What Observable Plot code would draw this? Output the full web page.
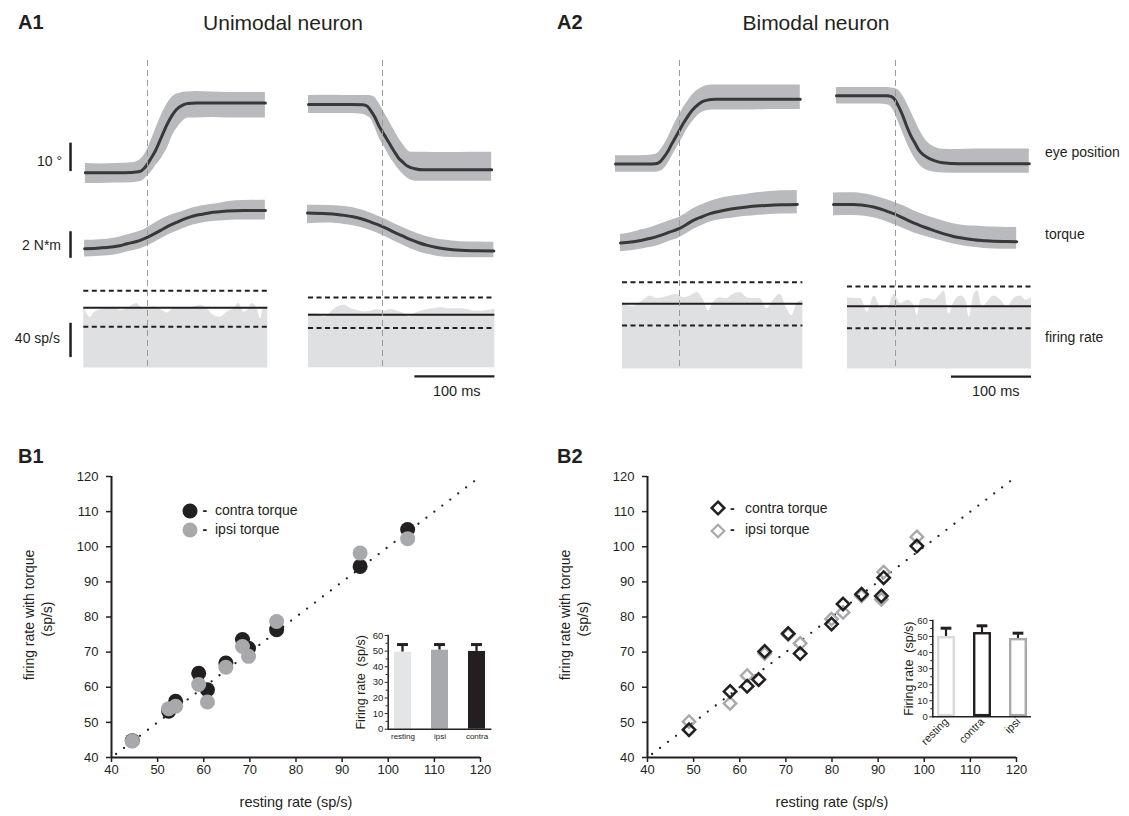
<!DOCTYPE html>
<html><head><meta charset="utf-8">
<script src="https://cdn.jsdelivr.net/npm/d3@7"></script>
<script src="https://cdn.jsdelivr.net/npm/@observablehq/plot@0.6"></script>
<style>
html,body{margin:0;padding:0;background:#fff}
#fig{position:relative;width:1129px;height:816px;overflow:hidden;background:#fff;font-family:"Liberation Sans",Arial,Helvetica,sans-serif;color:#231f20}
#fig > svg{position:absolute;overflow:visible;background:transparent;max-width:none}
</style></head><body><div id="fig"></div>
<script>
// ================= DATA =================
// Panel A traces: [time (ms from onset), mean, lower band, upper band]
const a1EyeLeft = [
  [-78,-12,-15.8,-8.8],[-60,-12,-15.8,-8.9],[-40,-12,-15.6,-8.8],[-20,-11.9,-15.5,-8.5],[-10,-11.6,-15.2,-7.5],
  [-5,-10.6,-14.5,-6],[0,-8.8,-13,-3.5],[5,-6.5,-11.5,0],[10,-4,-9.5,3.5],[15,-0.8,-7.8,7],[20,2.5,-5.5,10],
  [25,5.5,-3,12.5],[30,8,0.5,14.5],[35,10,3,15.5],[40,11.2,5,16],[45,12,6.5,16.3],[50,12.4,7.3,16.4],
  [60,12.5,7.3,16.6],[80,12.5,7.4,16.4],[100,12.5,7.3,16.2],[120,12.5,7.3,16.2],[147,12.5,7.3,16.2]];
const a1EyeRight = [
  [-93,12,8.8,15.2],[-60,12,8.8,15.3],[-40,12,8.8,15.2],[-25,11.9,8.6,15.2],[-20,11.5,8,15.2],[-15,9.8,7,15.1],
  [-10,7.5,4,14.5],[-5,4.5,0.5,12.5],[0,2.1,-2,10],[5,-0.2,-4.5,7.5],[10,-2.6,-7,5],[15,-4.9,-9,2.5],
  [20,-7,-11,0],[25,-8.3,-12.5,-2],[30,-9.6,-13.8,-3.8],[35,-10.2,-14.6,-4.8],[40,-10.6,-15,-4.8],
  [50,-11,-15,-4.8],[80,-11,-15,-4.9],[110,-11,-15,-4.8],[136,-11,-15,-4.8]];
const a1TorqueLeft = [
  [-79,-1.38,-2.0,-0.75],[-60,-1.32,-1.95,-0.7],[-46,-1.25,-1.88,-0.62],[-35,-1.15,-1.78,-0.5],[-26,-1.0,-1.63,-0.35],
  [-15,-0.85,-1.48,-0.15],[-5,-0.63,-1.28,0.05],[5,-0.35,-1.0,0.4],[16,0,-0.65,0.8],[25,0.3,-0.35,1.05],
  [37,0.63,-0.05,1.3],[47,0.88,0.2,1.5],[57,1.08,0.4,1.7],[68,1.22,0.55,1.85],[78,1.33,0.65,1.95],
  [90,1.4,0.7,2.05],[99,1.45,0.75,2.15],[120,1.5,0.78,2.25],[147,1.5,0.78,2.26]];
const a1TorqueRight = [
  [-94,1.3,0.5,1.9],[-69,1.25,0.55,1.88],[-48,1.13,0.45,1.8],[-37,1.02,0.35,1.7],[-27,0.88,0.22,1.55],
  [-17,0.68,0.02,1.35],[-7,0.45,-0.2,1.1],[4,0.17,-0.5,0.82],[14,-0.13,-0.8,0.52],[25,-0.42,-1.1,0.22],
  [35,-0.7,-1.38,-0.05],[45,-0.93,-1.6,-0.28],[56,-1.13,-1.8,-0.48],[66,-1.27,-1.92,-0.62],[77,-1.38,-2.02,-0.72],
  [97,-1.5,-2.05,-0.85],[118,-1.53,-2.05,-0.88],[139,-1.55,-2.05,-0.9]];
// firing rate: [time, rate sp/s]
const a1RateLeft = [
  [-80,71],[-71.6,59],[-67.5,64],[-55,69],[-42.5,71],[-34.1,67],[-25.8,69],[-13.3,75],[-9.1,71],[-0.8,69],
  [7.5,71],[15.9,68],[24.3,64],[32.5,69],[45,69],[57.5,71],[65.9,73],[74.2,69],[82.5,61],[90.9,59],
  [99.2,65],[107.5,69],[113.8,75],[120,65],[126.3,69],[130.5,75],[136.8,69],[140.9,57],[145,71],[150,71]];
const a1RateRight = [
  [-93,63],[-81.7,63],[-73.3,59],[-65,65],[-56.7,71],[-48.3,73],[-40,69],[-31.7,67],[-23.3,65],[-15,66],
  [-6.7,68],[1.7,66],[10,68],[18.3,66],[26.7,63],[32.9,59],[39.2,63],[47.5,66],[55.8,68],[64.2,69],
  [72.5,70],[80.8,69],[89.2,69],[97.5,69],[105.8,68],[114.2,66],[122.5,66],[130.8,67],[140,68]];
// [mean, upper dashed, lower dashed]
const a1RateLeftLevels = [70, 90, 48];
const a1RateRightLevels = [62, 82, 46.6];

const a2EyeLeft = [
  [-80,-11.4,-14.3,-8.5],[-60,-11.4,-14.3,-8.5],[-40,-11.4,-14.3,-8.4],[-30,-11.3,-14.3,-8],[-25,-10.8,-14,-7],
  [-20,-9.2,-13.3,-5],[-15,-7.2,-11.5,-2.5],[-10,-4.5,-9,0.5],[-5,-2,-6.5,3.5],[0,0.5,-4,6],[5,3,-1.5,8.5],
  [10,5.2,1,10.5],[15,7.2,3,12.5],[20,8.7,4.8,14],[25,9.9,6.2,15],[30,10.7,7,15.8],[35,11.1,7.4,16.2],
  [40,11.3,7.6,16.4],[45,11.4,7.6,16.4],[60,11.4,7.6,16.4],[80,11.4,7.6,16.4],[100,11.4,7.7,16.4],
  [120,11.4,7.8,16.4],[151,11.4,7.8,16.4]];
const a2EyeRight = [
  [-73,12.6,9.7,15.5],[-40,12.6,9.7,15.5],[-20,12.6,9.7,15.5],[-10,12.6,9.5,15.5],[-5,12.4,8.8,15.4],
  [0,11.3,6.5,15.2],[5,8.6,3,14.5],[10,5.5,-0.5,12.5],[15,1.7,-4,10],[20,-1.5,-7,7],[25,-4,-9.5,4],
  [30,-6.5,-11.5,1],[35,-8,-12.8,-1.5],[40,-9,-13.6,-3.5],[50,-10.3,-14.3,-5.5],[60,-11,-14.6,-6.2],
  [80,-11.3,-14.7,-6.3],[100,-11.3,-14.7,-6.1],[130,-11.3,-14.7,-6.1],[168,-11.3,-14.7,-6.1]];
const a2TorqueLeft = [
  [-73,-1.48,-2.13,-0.83],[-60,-1.4,-2.05,-0.7],[-48,-1.28,-1.95,-0.5],[-35,-1.12,-1.8,-0.3],[-23,-0.9,-1.6,-0.05],
  [-12,-0.66,-1.35,0.2],[0,-0.4,-1.1,0.45],[9,-0.1,-0.8,0.75],[18,0.23,-0.45,1.1],[29,0.5,-0.15,1.4],
  [39,0.73,0.1,1.65],[50,0.9,0.25,1.85],[60,1.03,0.35,1.98],[72,1.14,0.45,2.1],[85,1.23,0.53,2.2],
  [97,1.3,0.6,2.3],[110,1.35,0.65,2.38],[128,1.4,0.7,2.45],[148,1.43,0.73,2.48]];
const a2TorqueRight = [
  [-77,1.43,0.58,2.28],[-52,1.43,0.6,2.3],[-40,1.36,0.55,2.22],[-27,1.23,0.42,2.08],[-14,1.0,0.2,1.85],
  [-2,0.73,-0.08,1.6],[11,0.38,-0.4,1.3],[23,0.03,-0.7,0.95],[36,-0.27,-0.95,0.65],[48,-0.53,-1.15,0.4],
  [60,-0.77,-1.35,0.18],[73,-0.98,-1.55,-0.02],[86,-1.12,-1.7,-0.15],[98,-1.23,-1.8,-0.2],[111,-1.3,-1.88,-0.25],
  [123,-1.35,-1.92,-0.28],[140,-1.37,-1.95,-0.3],[152,-1.38,-1.95,-0.3]];
const a2RateLeft = [
  [-70.5,78],[-65,74],[-56.7,73],[-44.2,80],[-35.9,85],[-27.5,82],[-15,84],[-2.5,87],[5.8,83],[14.1,85],
  [22.5,89],[30.8,80],[37,68],[43.3,78],[51.6,83],[60,82],[68.3,87],[76.6,89],[85,83],[93.3,82],
  [101.6,82],[110,70],[118.3,80],[126.6,87],[135,70],[141.3,62],[147.5,76],[155,80]];
const a2RateRight = [
  [-60,83],[-51.7,82],[-43.4,82],[-35,66],[-26.7,85],[-18.4,72],[-10,70],[-1.7,87],[6.6,76],[15,80],
  [23.3,74],[27.5,62],[31.6,80],[40,82],[48.3,80],[56.6,87],[60.8,91],[67,64],[73.3,78],[81.6,85],
  [87.9,80],[92,60],[98.3,87],[102.5,91],[108.8,72],[115,78],[123.3,85],[131.6,80],[140,72],[148.3,82],
  [156.6,85],[162.9,80],[170,83]];
const a2RateLeftLevels = [75.8, 100.9, 50.5];
const a2RateRightLevels = [73, 95.9, 47.3];

// scale bars
const scaleEyeDeg = 10, scaleTorqueNm = 2, scaleRateSps = 40, scaleTimeMs = 100;

// Panel B scatter
const scatterTicks = [40, 50, 60, 70, 80, 90, 100, 110, 120];
const unityLine = [41, 120];
const b1Resting = [44.5, 52.4, 53.9, 58.9, 60.8, 64.8, 68.4, 69.7, 75.8, 93.9, 104.2];
const b1Contra  = [44.8, 53.2, 56.0, 64.0, 59.3, 66.9, 73.6, 71.1, 76.4, 94.4, 104.9];
const b1Ipsi    = [44.7, 53.9, 54.6, 60.8, 55.8, 65.7, 71.6, 68.8, 78.7, 98.2, 102.3];
const b2Resting = [49.0, 57.9, 61.6, 64.1, 65.4, 70.5, 73.1, 79.9, 82.4, 86.4, 90.7, 91.2, 98.4];
const b2Contra  = [47.9, 58.8, 60.3, 62.2, 70.2, 75.3, 69.6, 78.0, 83.7, 86.5, 86.0, 91.2, 100.2];
const b2Ipsi    = [50.2, 55.4, 63.3, 62.2, 69.6, 75.0, 72.5, 79.4, 81.3, 86.0, 85.0, 92.8, 102.8];

// Insets
const insetTicks = [0, 10, 20, 30, 40, 50, 60];
const insetMinorTicks = [5, 15, 25, 35, 45, 55];
const b1InsetCats = ["resting", "ipsi", "contra"];
const b1InsetMeans = [49.3, 50.6, 49.8];
const b1InsetErrs = [54.2, 54.2, 54.2];
const b2InsetCats = ["resting", "contra", "ipsi"];
const b2InsetMeans = [50.0, 52.5, 48.8];
const b2InsetErrs = [55.2, 56.7, 52.1];

// ================= STYLE =================
const INK = "#231f20", BAND = "#b9babd", FILL = "#dfe0e2", TRACE = "#383838", GRAY = "#a7a9ac", LIGHT = "#e4e5e6";
const FONT = '"Liberation Sans", Arial, Helvetica, sans-serif';
const STYLE = {fontFamily: FONT, fontSize: "14px", color: INK, background: "transparent", overflow: "visible"};
const b1InsetColors = [LIGHT, GRAY, INK];
const b2InsetColors = ["#d9dadb", INK, GRAY];
const MS = 0.8; // px per ms

const fig = document.getElementById("fig");
function place(svg, left, top) { svg.style.left = left + "px"; svg.style.top = top + "px"; fig.appendChild(svg); }
function txt(s, x, baseline, size, opt = {}) {
  const {anchor = "start", weight = 400, color = INK} = opt;
  const d = document.createElement("div");
  d.textContent = s;
  const tr = anchor === "middle" ? "translateX(-50%)" : anchor === "end" ? "translateX(-100%)" : "none";
  d.style.cssText = `position:absolute;left:${x}px;top:${baseline - 0.8465 * size}px;font-size:${size}px;line-height:1;font-weight:${weight};white-space:pre;transform:${tr};color:${color}`;
  fig.appendChild(d);
}

// ================= PANEL A =================
const tx = d => d[0];
function traceMarks(rows) {
  return [
    Plot.areaY(rows, {x: tx, y1: d => d[2], y2: d => d[3], fill: BAND, curve: "monotone-x"}),
    Plot.line(rows, {x: tx, y: d => d[1], stroke: TRACE, strokeWidth: 3, curve: "monotone-x"})
  ];
}
function rateMarks(rows, lv) {
  return [
    Plot.areaY(rows, {x: tx, y: d => d[1], fill: FILL, curve: "monotone-x"}),
    Plot.ruleY([lv[0]], {stroke: INK, strokeWidth: 2}),
    Plot.ruleY([lv[1], lv[2]], {stroke: INK, strokeWidth: 2, strokeDasharray: "5,3.5"})
  ];
}
function vbar(t, from, len) {
  return Plot.ruleX([{t, a: from, b: from + len}], {x: "t", y1: "a", y2: "b", stroke: INK, strokeWidth: 2.5});
}
function timebar(y, tEnd) {
  return Plot.ruleY([{y, a: tEnd - scaleTimeMs, b: tEnd}], {y: "y", x1: "a", x2: "b", stroke: INK, strokeWidth: 2.2});
}
function row({onset, rows, zero, yDomain, k, marks, toLeftEdge = false, mb = 0}) {
  const domain = d3.extent(rows, tx);
  const x0 = onset + domain[0] * MS;
  const ml = toLeftEdge ? x0 : 0;
  const w = (domain[1] - domain[0]) * MS, h = (yDomain[1] - yDomain[0]) * k;
  const svg = Plot.plot({
    width: w + ml, height: h + mb, marginLeft: ml, marginRight: 0, marginTop: 0, marginBottom: mb,
    x: {domain, axis: null}, y: {domain: yDomain, axis: null}, style: STYLE, marks
  });
  place(svg, x0 - ml, zero - yDomain[1] * k);
}
function onsetLine(onset) {
  const svg = Plot.plot({
    width: 10, height: 308, margin: 0,
    x: {domain: [-6.25, 6.25], axis: null}, y: {domain: [0, 1], axis: null}, style: STYLE,
    marks: [Plot.ruleX([0], {stroke: "#9a9a9a", strokeWidth: 1, strokeDasharray: "6,4"})]
  });
  place(svg, onset - 5, 60);
}

const EYE = {yDomain: [-18, 18], k: 2.84}, TOR = {yDomain: [-3, 3], k: 13.3}, RATE = {yDomain: [0, 110], k: 0.858};
const A1L = 147.3, A1R = 382, A2L = 678.7, A2R = 894.7;
const barT = -96.6; // scale-bar time position (left of A1 traces)

row({onset: A1L, rows: a1EyeLeft, zero: 138.2, ...EYE, toLeftEdge: true,
     marks: [...traceMarks(a1EyeLeft), vbar(barT, -11.6, scaleEyeDeg)]});
row({onset: A1L, rows: a1TorqueLeft, zero: 230, ...TOR, toLeftEdge: true,
     marks: [...traceMarks(a1TorqueLeft), vbar(barT, -2.1, scaleTorqueNm)]});
row({onset: A1L, rows: a1RateLeft, zero: 367.3, ...RATE, toLeftEdge: true,
     marks: [...rateMarks(a1RateLeft, a1RateLeftLevels), vbar(barT, 12, scaleRateSps)]});
row({onset: A1R, rows: a1EyeRight, zero: 138.2, ...EYE, marks: traceMarks(a1EyeRight)});
row({onset: A1R, rows: a1TorqueRight, zero: 230, ...TOR, marks: traceMarks(a1TorqueRight)});
row({onset: A1R, rows: a1RateRight, zero: 367.3, ...RATE, mb: 30,
     marks: [...rateMarks(a1RateRight, a1RateRightLevels), timebar(-10, 140)]});

row({onset: A2L, rows: a2EyeLeft, zero: 131.5, ...EYE, marks: traceMarks(a2EyeLeft)});
row({onset: A2L, rows: a2TorqueLeft, zero: 223, ...TOR, marks: traceMarks(a2TorqueLeft)});
row({onset: A2L, rows: a2RateLeft, zero: 368.3, ...RATE, marks: rateMarks(a2RateLeft, a2RateLeftLevels)});
row({onset: A2R, rows: a2EyeRight, zero: 131.5, ...EYE, marks: traceMarks(a2EyeRight)});
row({onset: A2R, rows: a2TorqueRight, zero: 223, ...TOR, marks: traceMarks(a2TorqueRight)});
row({onset: A2R, rows: a2RateRight, zero: 368.3, ...RATE, mb: 30,
     marks: [...rateMarks(a2RateRight, a2RateRightLevels), timebar(-9, 170)]});

[A1L, A1R, A2L, A2R].forEach(onsetLine);

txt("A1", 18, 29.3, 20, {weight: 700});
txt("Unimodal neuron", 283, 30, 21, {anchor: "middle"});
txt("A2", 557, 29.3, 20, {weight: 700});
txt("Bimodal neuron", 816, 30, 21, {anchor: "middle"});
txt("10 \u00B0", 62, 166, 14, {anchor: "end"});
txt("2 N*m", 61, 250, 14, {anchor: "end"});
txt("40 sp/s", 60, 343.3, 14, {anchor: "end"});
txt("100 ms", 456.7, 396.7, 14.5, {anchor: "middle"});
txt("100 ms", 995.7, 396.7, 14.5, {anchor: "middle"});
txt("eye position", 1045, 156.7, 14);
txt("torque", 1045, 239, 14);
txt("firing rate", 1045, 341.7, 14);

// ================= PANEL B =================
function scatter(left, pointMarks) {
  const svg = Plot.plot({
    width: 500, height: 396, marginLeft: 111, marginRight: 20, marginTop: 56, marginBottom: 59,
    x: {domain: [40, 120]}, y: {domain: [40, 120]}, style: STYLE,
    marks: [
      Plot.line(unityLine, {x: d => d, y: d => d, stroke: INK, strokeWidth: 2.3, strokeDasharray: "0,10", strokeLinecap: "round"}),
      ...pointMarks,
      Plot.ruleX([40], {stroke: INK, strokeWidth: 2}),
      Plot.ruleY([40], {stroke: INK, strokeWidth: 2}),
      Plot.axisX({ticks: scatterTicks, tickSize: 5, tickPadding: 2, fontSize: 13, label: null, strokeWidth: 1.5}),
      Plot.axisY({ticks: scatterTicks, tickSize: 5, tickPadding: 8, fontSize: 13, label: null, strokeWidth: 1.5}),
      Plot.text(["resting rate (sp/s)"], {frameAnchor: "bottom", dy: 49, fontSize: 14.5}),
      Plot.text(["firing rate with torque"], {frameAnchor: "left", textAnchor: "middle", dx: -82, dy: -2, rotate: -90, fontSize: 14}),
      Plot.text(["(sp/s)"], {frameAnchor: "left", textAnchor: "middle", dx: -64, dy: 2, rotate: -90, fontSize: 14})
    ]
  });
  place(svg, left, 420);
}
scatter(0, [
  Plot.dot(d3.zip(b1Resting, b1Contra), {x: d => d[0], y: d => d[1], r: 7.5, fill: INK}),
  Plot.dot(d3.zip(b1Resting, b1Ipsi), {x: d => d[0], y: d => d[1], r: 7.5, fill: GRAY})
]);
scatter(536.3, [
  Plot.dot(d3.zip(b2Resting, b2Ipsi), {x: d => d[0], y: d => d[1], r: 5.6, symbol: "diamond2", stroke: GRAY, strokeWidth: 2.4, fill: "none"}),
  Plot.dot(d3.zip(b2Resting, b2Contra), {x: d => d[0], y: d => d[1], r: 5.6, symbol: "diamond2", stroke: INK, strokeWidth: 2.5, fill: "none"})
]);

function inset({cats, means, errs, colors, outline, left, top, ml, frameW, mb, pi, po, rotate}) {
  const rows = cats.map((c, i) => ({cat: c, mean: means[i], err: errs[i], color: colors[i]}));
  const frameH = 60 * (outline ? 1.606 : 1.562);
  const bw = frameW / (3 - pi + 2 * po) * (1 - pi);
  const stemInset = (bw - 2.4) / 2, capInset = (bw - 11) / 2;
  const bars = outline
    ? Plot.barY(rows, {x: "cat", y: "mean", fill: "white", stroke: "color", strokeWidth: 2.4, inset: 1.2})
    : Plot.barY(rows, {x: "cat", y: "mean", fill: "color"});
  const svg = Plot.plot({
    width: ml + frameW + 8, height: 10 + frameH + mb, marginLeft: ml, marginRight: 8, marginTop: 10, marginBottom: mb,
    x: {domain: cats, paddingInner: pi, paddingOuter: po},
    y: {domain: [0, 60]}, color: {type: "identity"}, style: STYLE,
    marks: [
      Plot.barY(rows, {x: "cat", y1: "mean", y2: "err", fill: INK, insetLeft: stemInset, insetRight: stemInset}),
      Plot.tickY(rows, {x: "cat", y: "err", stroke: INK, strokeWidth: 3, insetLeft: capInset, insetRight: capInset}),
      bars,
      Plot.ruleY([0], {stroke: INK, strokeWidth: 1.5}),
      Plot.frame({anchor: "left", stroke: INK, strokeWidth: 1.5}),
      Plot.axisY({ticks: insetTicks, tickSize: 3, tickPadding: 2, fontSize: 9.5, label: null}),
      Plot.axisY({ticks: insetMinorTicks, tickSize: 2, text: null, label: null}),
      rotate
        ? Plot.axisX({tickSize: 0, tickPadding: 3, tickRotate: -45, fontSize: 11, label: null})
        : Plot.axisX({tickSize: 0, tickPadding: 4, fontSize: 8, label: null}),
      Plot.text(["Firing rate  (sp/s)"], {frameAnchor: "left", textAnchor: "middle", dx: outline ? -24.3 : -27.7, rotate: -90, fontSize: 12.5})
    ]
  });
  place(svg, left, top);
}
inset({cats: b1InsetCats, means: b1InsetMeans, errs: b1InsetErrs, colors: b1InsetColors, outline: false,
       left: 345, top: 625, ml: 42.7, frameW: 103.7, mb: 20, pi: 0.55, po: 0.14, rotate: false});
inset({cats: b2InsetCats, means: b2InsetMeans, errs: b2InsetErrs, colors: b2InsetColors, outline: true,
       left: 880, top: 609.6, ml: 52.3, frameW: 98.6, mb: 50, pi: 0.5, po: 0.1, rotate: true});

// legends
function legendSymbol(cx, cy, inner) {
  const d = document.createElement("div");
  d.style.cssText = `position:absolute;left:${cx - 10}px;top:${cy - 10}px;width:20px;height:20px`;
  d.innerHTML = `<svg width="20" height="20" viewBox="-10 -10 20 20" style="overflow:visible">${inner}</svg>`;
  fig.appendChild(d);
}
legendSymbol(190, 510.7, `<circle r="7.5" fill="${INK}"/>`);
legendSymbol(189.5, 530, `<circle r="7.5" fill="${GRAY}"/>`);
txt("-", 202.5, 515, 14, {weight: 700}); txt("contra torque", 215, 515, 14);
txt("-", 202.5, 534, 14, {weight: 700}); txt("ipsi torque", 215, 534, 14);
legendSymbol(718.3, 508.3, `<polygon points="0,-6.3 6.3,0 0,6.3 -6.3,0" fill="none" stroke="${INK}" stroke-width="2.5"/>`);
legendSymbol(718.3, 530.7, `<polygon points="0,-6.3 6.3,0 0,6.3 -6.3,0" fill="none" stroke="${GRAY}" stroke-width="2.2"/>`);
txt("-", 730, 513.3, 14, {weight: 700}); txt("contra torque", 745, 513.3, 14);
txt("-", 730, 534, 14, {weight: 700}); txt("ipsi torque", 745, 534, 14);

txt("B1", 18, 463, 20, {weight: 700});
txt("B2", 557, 463, 20, {weight: 700});
</script></body></html>
